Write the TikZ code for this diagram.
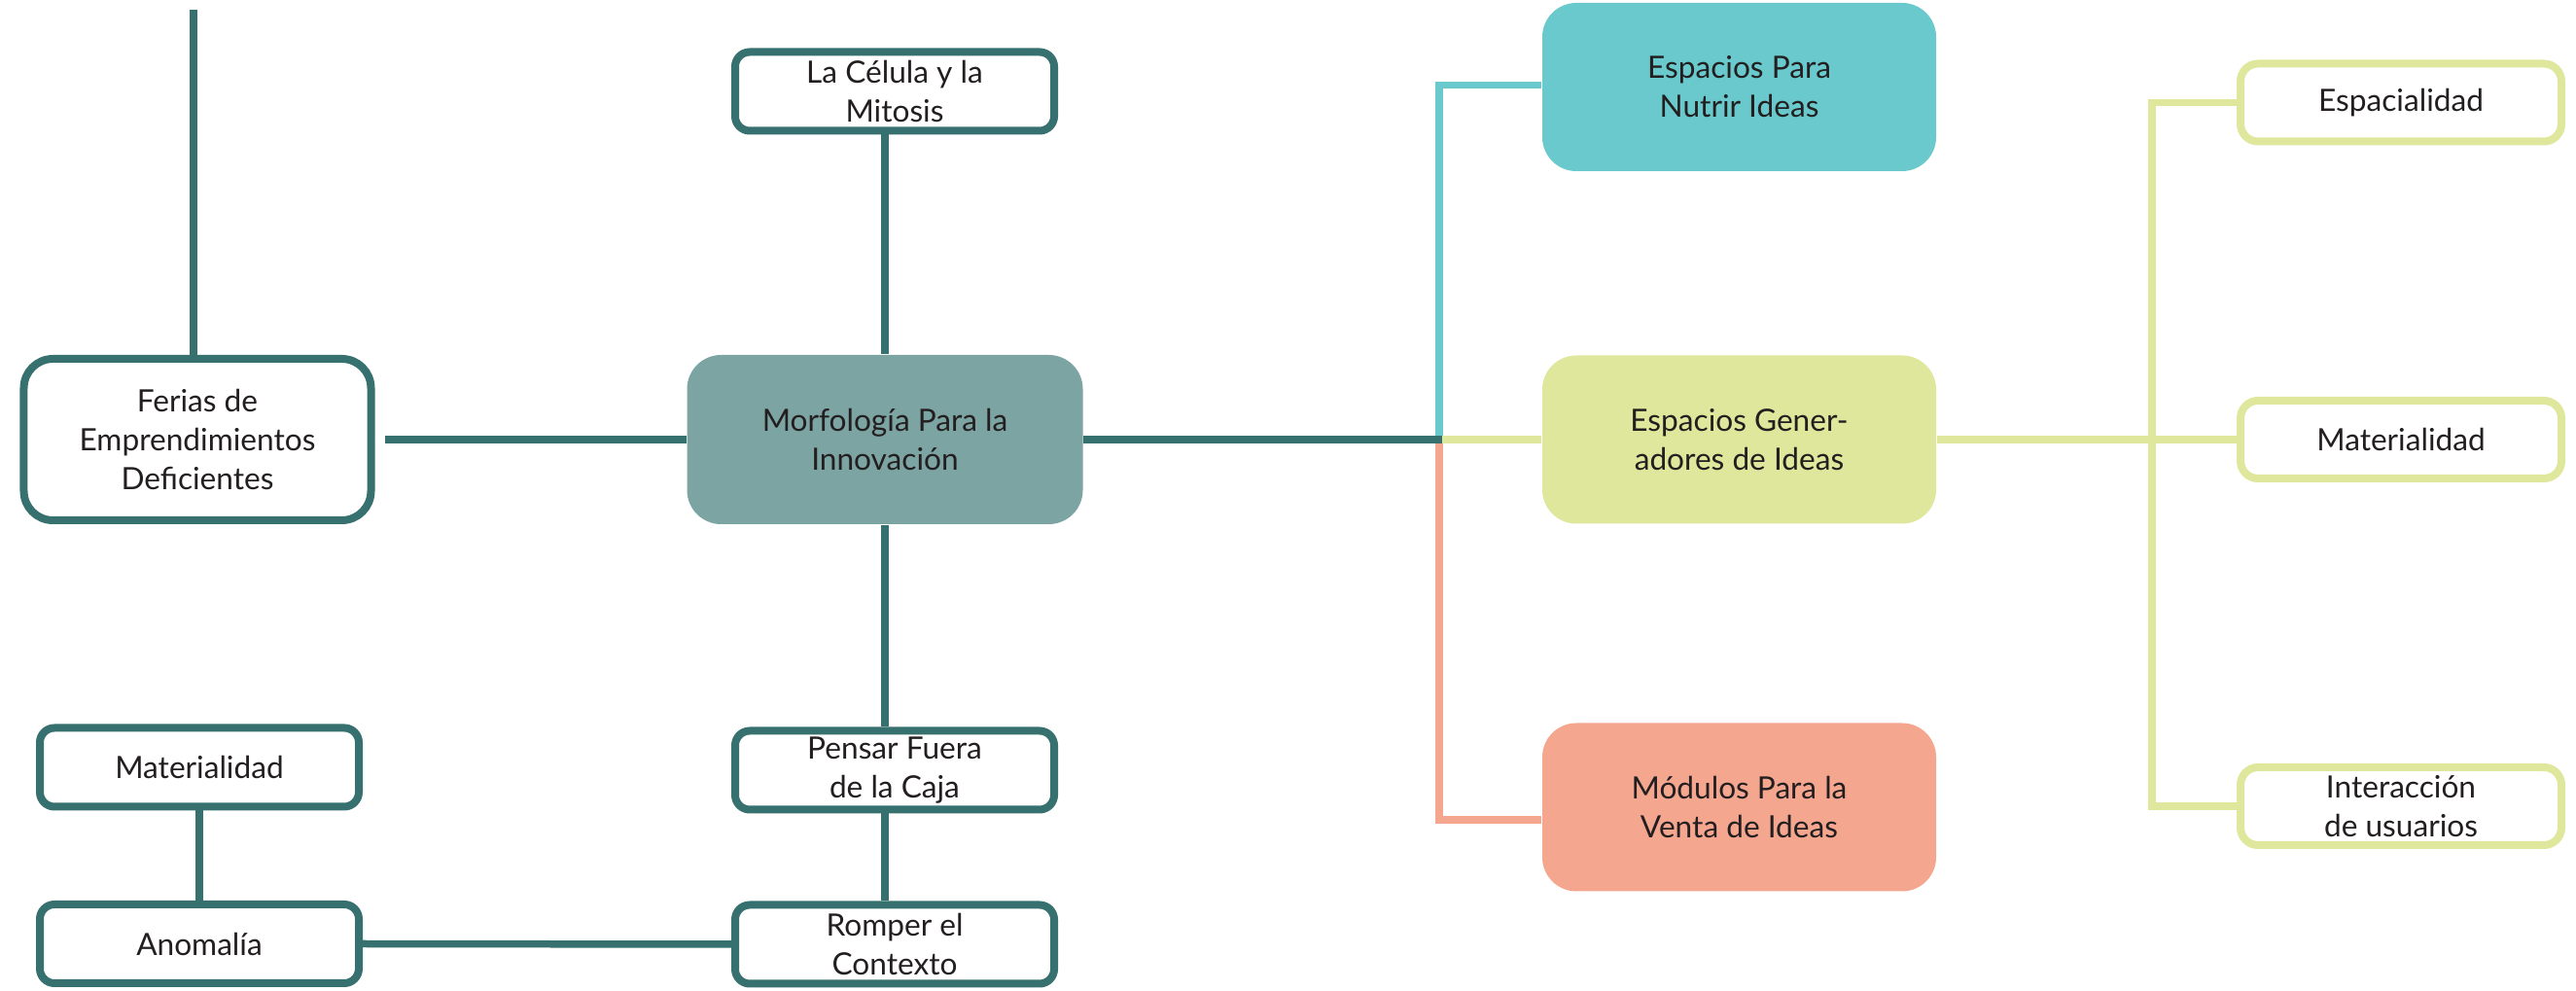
\documentclass[tikz,border=0pt]{standalone}
\usepackage{fontspec}
\setmainfont{Lato}
\definecolor{darkteal}{HTML}{37716F}
\definecolor{morfill}{HTML}{7CA4A3}
\definecolor{tealfill}{HTML}{69C9CC}
\definecolor{greenfill}{HTML}{DEE79B}
\definecolor{salmonfill}{HTML}{F5A68E}
\definecolor{textgray}{HTML}{231F20}
\tikzset{
    every node/.style={font=\fontsize{9}{11.4}\selectfont, text=textgray, align=center, inner sep=0pt},
    darkline/.style={draw=darkteal, line width=0.075cm},
    darkbox/.style={draw=darkteal, line width=0.08cm, fill=white, rounded corners=0.15cm, minimum width=3.28cm, minimum height=0.81cm},
    bigbox/.style={rounded corners=0.35cm, minimum width=4.05cm, minimum height=1.73cm},
    greenbox/.style={draw=greenfill, line width=0.08cm, fill=white, rounded corners=0.18cm, minimum width=3.3cm, minimum height=0.8cm},
}

\begin{document}
\begin{tikzpicture}
    \useasboundingbox (0,0) rectangle (26.49,10.19);

    % left side
    \node[darkbox, rounded corners=0.3cm, minimum width=3.57cm, minimum height=1.66cm] (ferias) at (2.03,5.67) {Ferias de\\Emprendimientos\\Deficientes};
    \node[bigbox, fill=morfill, minimum width=4.07cm, minimum height=1.74cm] (morf) at (9.1,5.67) {Morfología Para la\\Innovación};
    \node[darkbox] (celula) at (9.2,9.25) {La Célula y la\\Mitosis};
    \node[darkbox] (pensar) at (9.2,2.27) {Pensar Fuera\\de la Caja};
    \node[darkbox] (romper) at (9.2,0.48) {Romper el\\Contexto};
    \node[darkbox] (matizq) at (2.05,2.30) {Materialidad};
    \node[darkbox] (anomalia) at (2.05,0.485) {Anomalía};

    \coordinate (topend) at (1.99,10.09);
    \coordinate (hub) at (14.80,5.67);

    \draw[darkline] (topend) -- (topend |- ferias.north);
    \draw[darkline] ([xshift=0.1cm]ferias.east) -- (morf.west);
    \draw[darkline] (celula.south -| morf.north) -- (morf.north);
    \draw[darkline] (morf.south) -- (morf.south |- pensar.north);
    \draw[darkline] (pensar.south -| morf.south) -- (romper.north -| morf.south);
    \draw[darkline] (anomalia.east) -- (romper.west);
    \draw[darkline] (matizq.south) -- (anomalia.north);

    % right side
    \node[bigbox, fill=tealfill] (nutrir) at (17.885,9.295) {Espacios Para\\Nutrir Ideas};
    \node[bigbox, fill=greenfill] (generadores) at (17.885,5.67) {Espacios Gener-\\adores de Ideas};
    \node[bigbox, fill=salmonfill] (modulos) at (17.885,1.89) {Módulos Para la\\Venta de Ideas};
    \node[greenbox] (espacialidad) at (24.69,9.135) {Espacialidad};
    \node[greenbox] (matder) at (24.69,5.67) {Materialidad};
    \node[greenbox] (interaccion) at (24.69,1.90) {Interacción\\de usuarios};

    \draw[draw=tealfill, line width=0.075cm] (hub) |- ([yshift=0.02cm]nutrir.west);
    \draw[draw=salmonfill, line width=0.075cm] (hub) |- ([yshift=-0.13cm]modulos.west);
    \draw[draw=greenfill, line width=0.075cm] (hub) -- (generadores.west);
    \draw[draw=greenfill, line width=0.075cm] (generadores.east) -- (matder.west);
    \draw[draw=greenfill, line width=0.075cm] (espacialidad.west) -- ++(-0.87,0) |- (interaccion.west);
    \draw[darkline] (morf.east) -- ([xshift=0.03cm]hub);
\end{tikzpicture}
\end{document}
